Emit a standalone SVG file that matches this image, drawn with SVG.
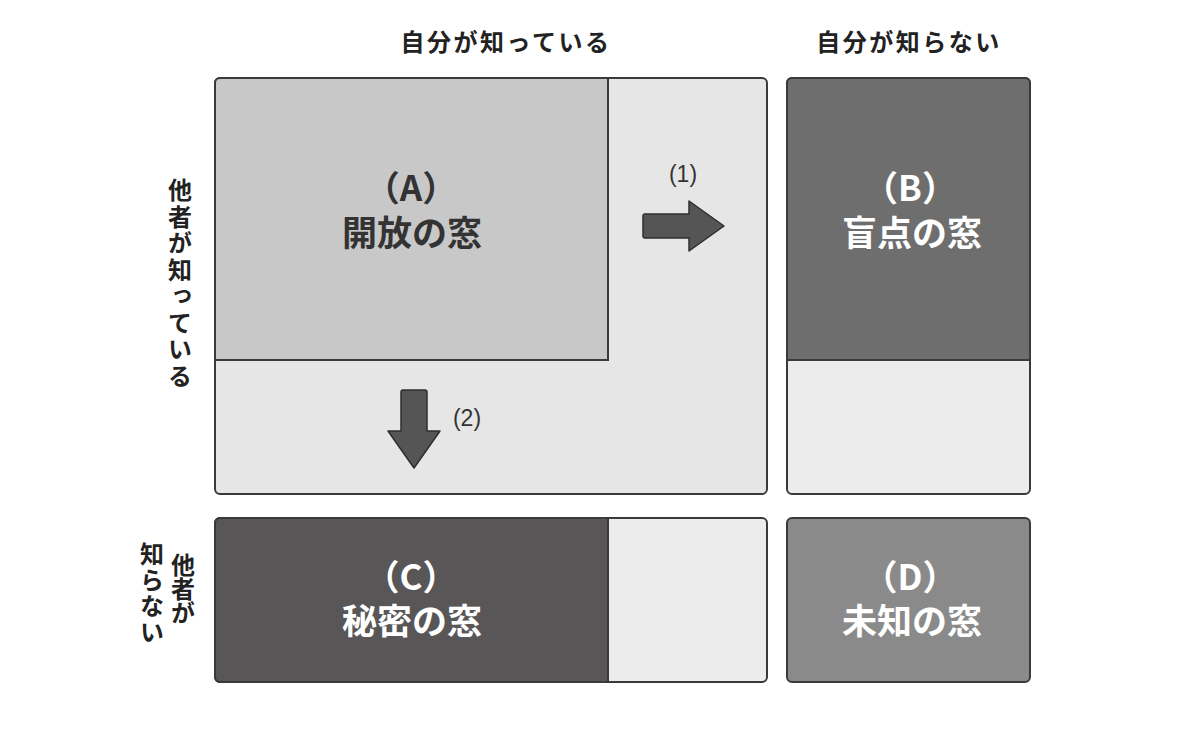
<svg xmlns="http://www.w3.org/2000/svg" width="1200" height="741" viewBox="0 0 1200 741">
<style>
.box{stroke:#3a3a3a;stroke-width:2}
.t{font-family:"Noto Sans CJK JP","Noto Sans",sans-serif;font-weight:bold}
.hd{font-size:24px;fill:#222;text-anchor:middle;letter-spacing:2.5px}
.lbl{font-size:35px;text-anchor:middle}
.num{font-family:"Liberation Sans","Noto Sans",sans-serif;font-size:23px;fill:#333;text-anchor:middle}
.vt{font-size:24px;fill:#222;writing-mode:vertical-rl;text-anchor:start;letter-spacing:2.5px}
.arrow{fill:#555;stroke:#2e2e2e;stroke-width:1.5;stroke-linejoin:round}
</style>
<rect width="1200" height="741" fill="#ffffff"/>
<g id="headers">
<text class="t hd" x="506" y="51">自分が知っている</text>
<text class="t hd" x="909" y="51">自分が知らない</text>
<text class="t vt" x="180" y="178">他者が知っている</text>
<text class="t vt" x="183" y="553" style="letter-spacing:0">他者が</text>
<text class="t vt" x="152" y="542" style="letter-spacing:2px">知らない</text>
</g>
<g id="known-by-others">
<rect class="box" x="215" y="78" width="552" height="416" rx="5" fill="#e6e6e6"/>
</g>
<g id="windowA">
<path class="box" d="M220,78 H608 V360 H215 V83 A5,5 0 0 1 220,78 Z" fill="#c8c8c8"/>
<text class="t lbl" fill="#333"><tspan x="411" y="201">（A）</tspan><tspan x="412" y="246">開放の窓</tspan></text>
</g>
<g id="windowB">
<rect class="box" x="787" y="78" width="243" height="416" rx="5" fill="#ececec"/>
<path class="box" d="M792,78 H1025 A5,5 0 0 1 1030,83 V360 H787 V83 A5,5 0 0 1 792,78 Z" fill="#6e6e6e"/>
<text class="t lbl" fill="#ffffff"><tspan x="910" y="201">（B）</tspan><tspan x="912" y="246">盲点の窓</tspan></text>
</g>
<g id="windowC">
<rect class="box" x="215" y="518" width="552" height="164" rx="5" fill="#ececec"/>
<path class="box" d="M220,518 H608 V682 H220 A5,5 0 0 1 215,677 V523 A5,5 0 0 1 220,518 Z" fill="#585657"/>
<text class="t lbl" fill="#ffffff"><tspan x="411" y="590">（C）</tspan><tspan x="412" y="634">秘密の窓</tspan></text>
</g>
<g id="windowD">
<rect class="box" x="787" y="518" width="243" height="164" rx="5" fill="#8a8a8a"/>
<text class="t lbl" fill="#ffffff"><tspan x="910" y="590">（D）</tspan><tspan x="912" y="634">未知の窓</tspan></text>
</g>
<g id="connectors">
<path class="arrow" d="M645,214 H689 V201 L724,226 L689,251 V238 H645 Q643,238 643,236 V216 Q643,214 645,214 Z"/>
<text class="num" x="683" y="182">(1)</text>
<path class="arrow" d="M403,390 H425 Q427,390 427,392 V431 H440 L414,468 L388,431 H401 V392 Q401,390 403,390 Z"/>
<text class="num" x="467" y="426">(2)</text>
</g>
</svg>
